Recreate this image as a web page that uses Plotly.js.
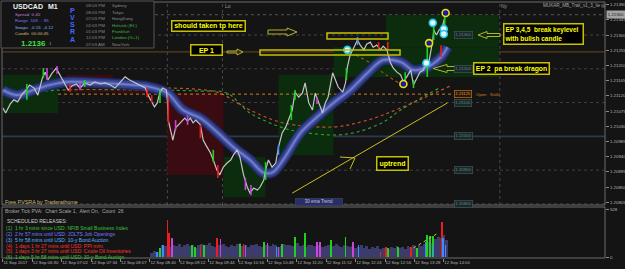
<!DOCTYPE html>
<html><head><meta charset="utf-8">
<script src="https://cdn.plot.ly/plotly-3.0.1.min.js"></script>
<style>html,body{margin:0;padding:0;background:#141414;}#chart{width:625px;height:269px;}</style>
</head><body><div id="chart"></div>
<script>
// ---------------- DATA ----------------
const priceTime = [0,3,8,12,16,21,25,29,34,38,43,46,49,53,58,62,
67,71,75,80,84,89,95,100,106,111,117,122,128,133,138,144,149,155,158,161,165,168,171,174,178,
179,180,183,185,188,191,193,196,198,201,204,207,210,215,218,221,226,229,233,236,240,244,248,251,255,258,262,266,269,273,277,280,284,286,289,293,297,300,304,308,311,315,318,322,326,329,333,337,340,344,348,351,354,359,362,365,370,373,375,378,382,386,389,393,396,400,403,407,411,414,418,422,425,429,433,436,439,444,447,450,454,458,460,463,468,469,472,475,478,482];
const priceClose = [1.21084,1.21069,1.21096,1.21108,1.21102,1.21125,1.21137,1.21152,1.21143,1.21122,1.21173,1.21190,1.21167,1.21185,1.21202,1.21182,
1.21161,1.21137,1.21149,1.21155,1.21143,1.21158,1.21152,1.21161,1.21155,1.21158,1.21152,1.21143,1.21161,1.21176,1.21167,1.21158,1.21152,1.21143,1.21122,1.21108,1.21087,1.21099,1.21131,1.21143,1.21137,
1.21108,1.21048,1.21013,1.20989,1.21025,1.21034,1.21040,1.21048,1.21054,1.21045,1.21054,1.21040,1.21048,1.21034,1.20989,1.20974,1.20951,1.20930,1.20900,1.20886,1.20909,1.20921,1.20930,1.20945,1.20960,1.20939,1.20886,1.20850,1.20832,1.20847,1.20841,1.20850,1.20871,1.20900,1.20930,1.20909,1.20921,1.20968,1.21010,1.21028,1.21048,1.21078,1.21131,1.21116,1.21128,1.21158,1.21099,1.21078,1.21128,1.21099,1.21069,1.21099,1.21116,1.21188,1.21167,1.21146,1.21131,1.21158,1.21205,1.21241,1.21262,1.21285,1.21270,1.21256,1.21273,1.21279,1.21264,1.21270,1.21256,1.21267,1.21256,1.21217,1.21202,1.21190,1.21182,1.21161,1.21173,1.21196,1.21152,1.21167,1.21190,1.21196,1.21220,1.21208,1.21285,1.21315,1.21300,1.21315,1.21321,1.21362];

const dragonTime  = [0,15,33,51,70,106,142,160,179,196,215,233,251,269,284,294,305,324,342,360,378,397,414,433,447,462,477,484];
const dragonPrice = [1.21137,1.21122,1.21137,1.21152,1.21161,1.21158,1.21152,1.21146,1.21128,1.21078,1.21054,1.21013,1.20968,1.20930,1.20892,1.20894,1.20930,1.21010,1.21057,1.21099,1.21137,1.21188,1.21226,1.21220,1.21196,1.21205,1.21235,1.21264];

const maGreenTime  = [0,62,160,215,244,269,305,324,360,386,414,433,477];
const maGreenPrice = [1.21122,1.21137,1.21137,1.21134,1.21128,1.21069,1.21025,1.21013,1.21004,1.21013,1.21042,1.21078,1.21146];
const maRedTime  = [160,233,255,269,305,360,397,433,487];
const maRedPrice = [1.21143,1.21131,1.21099,1.21078,1.21040,1.21028,1.21048,1.21084,1.21149];
const maUpperTime  = [384,400,417,433];
const maUpperPrice = [1.21241,1.21217,1.21182,1.21155];

const dailyOpen = 1.21125, openFrom = 60, openTo = 490;
const keyLevel = 1.21250, bidPrice = 1.21360;

const candleTime = [26,44,48,59,73,84,89,157,162,171,180,188,201,215,229,234,264,270,286,300,314,318,342,374,386,409,419,438,447,462,477,469,481];
const candleHigh = [1.21155,1.21202,1.21202,1.21208,1.21155,1.21161,1.21167,1.21143,1.21122,1.21137,1.21116,1.21048,1.21063,1.21034,1.20960,1.20915,1.20877,1.20856,1.20924,1.20974,1.21093,1.21137,1.21116,1.21202,1.21294,1.21279,1.21279,1.21190,1.21167,1.21285,1.21270,1.21330,1.21359];
const candleLow  = [1.21108,1.21173,1.21167,1.21185,1.21131,1.21137,1.21146,1.21116,1.21099,1.21099,1.21040,1.21019,1.21034,1.20995,1.20924,1.20877,1.20841,1.20826,1.20871,1.20945,1.21048,1.21108,1.21096,1.21167,1.21270,1.21256,1.21256,1.21155,1.21143,1.21176,1.21235,1.21285,1.21315];
const candleType = ['bullClimax','bullClimax','bearRising','bearRising','bearClimax','bearRising','bullClimax','bearClimax','bearClimax','bullClimax','bearClimax','bearRising','bearRising','bearClimax','bullClimax','bearClimax','bearRising','bearRising','bullClimax','bullRising','bullClimax','bullClimax','bearRising','bullClimax','bullRising','bearClimax','bearClimax','bullClimax','bullClimax','bullClimax','bearClimax','bullClimax','bullClimax'];

const signalTime  = [482,464,436,468,480,480,461,375];
const signalPrice = [1.21365,1.21276,1.21155,1.21336,1.21318,1.21303,1.21217,1.21256];
const signalType  = ['entry','entry','entry','alert','alert','alert','alert','alert'];

const trendTime = [315,484], trendPrice = [1.20832,1.21099];

const boxStart = [0,68,120,179,240,300,360,417];
const boxEnd   = [60,120,179,240,286,360,540,540];
const boxHigh  = [1.21182,1.21182,1.21146,1.21128,1.20939,1.21182,1.21264,1.21359];
const boxLow   = [1.21069,1.21131,1.21128,1.20886,1.20820,1.20945,1.21176,1.21264];
const boxKind  = ['up','down','down','down','up','up','up','up'];

const levelPrices = [1.21400,1.21300,1.21200,1.21100,1.21000,1.20900,1.20800];
const sessionLines = [179,239,541];

const volStart = 162, volStep = 3;
const volValues = [45,70,60,95,140,120,150,110,135,125,
145,115,130,150,120,140,100,130,145,120,
135,155,125,110,140,130,150,120,115,140,
125,145,160,120,130,110,140,135,150,125,
115,140,130,120,145,135,110,125,150,140,
130,120,145,155,125,135,110,140,130,120,
145,135,115,125,140,130,120,150,125,110,
135,120,110,125,100,115,130,105,120,95,
110,100,120,90,105,115,95,110,100,125,
105,115,95,120,110,130,100,140,125,150,
165,180,160,200,230,210,250,190];
const spikeTime = [168,171,174,179,181,184,206,209,215,219,233,237,258,262,264,284,288,298,300,304,318,329,342,345,357,373,381,387,411,417,419,430,444,451,460,462,465,468,469,478,479,482];
const spikeVol  = [57,102,135,415,269,213,135,113,135,135,213,202,146,146,135,169,158,113,113,146,225,269,169,169,191,225,169,135,57,113,102,113,113,102,169,247,236,236,135,392,213,135];
const spikeType = ['bullRising','bullClimax','bullRising','bearClimax','bearClimax','bearRising','bullClimax','bullClimax','bearClimax','bullClimax','bearClimax','bearRising','bullClimax','bearClimax','bearRising','bullClimax','bearRising','bullRising','bearRising','bullClimax','bullClimax','bullClimax','bearRising','bearRising','bullClimax','bullClimax','bearRising','bullRising','bearClimax','bearClimax','bullClimax','bullClimax','bearClimax','bullClimax','bullRising','bullClimax','bullClimax','bullClimax','bullRising','bearClimax','bullRising','bullRising'];
const lowerTrendTime = [447,472], lowerTrendVol = [102,258];

const timeTickIdx  = [0,32,64,96,128,160,192,224,256,288,320,352,384,416,448,480];
const timeTickText = ['11 Sep 2017','12 Sep 06:30','12 Sep 07:02','12 Sep 07:34','12 Sep 08:07','12 Sep 08:40','12 Sep 09:12','12 Sep 09:44','12 Sep 10:16','12 Sep 10:48','12 Sep 11:20','12 Sep 11:52','12 Sep 12:24','12 Sep 12:56','12 Sep 13:28','12 Sep 14:00'];
const priceTicks = [1.21390,1.21345,1.21300,1.21255,1.21210,1.21165,1.21120,1.21075,1.21030,1.20985,1.20940,1.20895,1.20850,1.20805];

const sessionTimes = ['09:03 PM','08:03 PM','07:03 PM','02:03 PM','01:03 PM','12:03 PM','07:03 AM'];
const sessionCities = ['Sydney','Tokyo','HongKong','Helsinki (EL)','Frankfurt','London (G+1)','NewYork'];
const sessionOpen = [false,false,false,true,true,true,false];
const releases = ['(1)  1 hr 3 mins since USD: NFIB Small Business Index',
 '(2)  2 hr 57 mins until USD: JOLTS Job Openings',
 '(3)  5 hr 58 mins until USD: 10-y Bond Auction',
 '(4)  1 days 1 hr 27 mins until USD: PPI m/m',
 '(5)  1 days 3 hr 27 mins until USD: Crude Oil Inventories',
 '(6)  1 days 5 hr 58 mins until USD: 30-y Bond Auction'];
const releaseKind = ['past','usd','usd2','high','high','past'];

// ---------------- STYLE / BUILD ----------------
const C = {bullClimax:'#22d022', bearClimax:'#ee1c1c', bullRising:'#3a8cff', bearRising:'#cc44dd'};
const L=2,R=605,TOP=2,BOT=258;
const xp=x=>(x-L)/(R-L), yp=y=>(BOT-y)/(BOT-TOP);
const FONT='Liberation Sans, Arial, sans-serif';
const traces=[];

traces.push({x:maGreenTime,y:maGreenPrice,mode:'lines',line:{color:'#2aa02a',width:1.2,dash:'dot',shape:'spline'},xaxis:'x',yaxis:'y'});
traces.push({x:maRedTime,y:maRedPrice,mode:'lines',line:{color:'#c8502a',width:1.2,dash:'dot',shape:'spline'},xaxis:'x',yaxis:'y'});
traces.push({x:maUpperTime,y:maUpperPrice,mode:'lines',line:{color:'#b84a2a',width:1.1,dash:'dot',shape:'spline'},xaxis:'x',yaxis:'y'});
traces.push({x:[openFrom,openTo],y:[dailyOpen,dailyOpen],mode:'lines',line:{color:'#d08020',width:1,dash:'dot'},xaxis:'x',yaxis:'y'});
[[10.5,'#222b66'],[7.5,'#34418c'],[4,'#4d5aaa'],[1.6,'#7480c8']].forEach(([w,c])=>{
  traces.push({x:dragonTime,y:dragonPrice,mode:'lines',line:{color:c,width:w,shape:'spline',smoothing:1},xaxis:'x',yaxis:'y'});
});
traces.push({x:priceTime,y:priceClose,mode:'lines',line:{color:'#c4c4c4',width:1.2},xaxis:'x',yaxis:'y'});
Object.keys(C).forEach(k=>{
  const xs=[],ys=[];
  candleTime.forEach((t,i)=>{ if(candleType[i]===k){ xs.push(t,t,null); ys.push(candleLow[i],candleHigh[i],null);} });
  traces.push({x:xs,y:ys,mode:'lines',line:{color:C[k],width:1.6},xaxis:'x',yaxis:'y'});
});
traces.push({x:trendTime,y:trendPrice,mode:'lines',line:{color:'#c8c020',width:1},xaxis:'x',yaxis:'y'});
const sIdxE=signalType.map((s,i)=>s==='entry'?i:-1).filter(i=>i>=0);
const sIdxA=signalType.map((s,i)=>s==='alert'?i:-1).filter(i=>i>=0);
traces.push({x:sIdxA.map(i=>signalTime[i]),y:sIdxA.map(i=>signalPrice[i]),mode:'markers',marker:{size:7,color:'#e6f6ff',line:{color:'#22c4e8',width:1.6}},xaxis:'x',yaxis:'y'});
traces.push({x:sIdxE.map(i=>signalTime[i]),y:sIdxE.map(i=>signalPrice[i]),mode:'markers',marker:{size:7,color:'#1a1aa8',line:{color:'#f0e000',width:1.6}},xaxis:'x',yaxis:'y'});
traces.push({type:'bar',x:volValues.map((v,i)=>volStart+i*volStep),y:volValues,width:volStep,marker:{color:'#3c3c6c',line:{width:0}},xaxis:'x',yaxis:'y2'});
traces.push({type:'bar',x:spikeTime,y:spikeVol,width:1.7,marker:{color:spikeType.map(k=>C[k]),line:{width:0}},xaxis:'x',yaxis:'y2'});
traces.push({x:lowerTrendTime,y:lowerTrendVol,mode:'lines',line:{color:'#c8c020',width:1,dash:'dot'},xaxis:'x',yaxis:'y2'});

const shapes=[];
boxStart.forEach((s,i)=>shapes.push({type:'rect',xref:'x',yref:'y',x0:s,x1:boxEnd[i],y0:boxLow[i],y1:boxHigh[i],fillcolor:boxKind[i]==='up'?'#0c2c0e':'#3a0c12',line:{width:0},layer:'below'}));
levelPrices.forEach(p=>{
  if(p===1.21000) shapes.push({type:'line',xref:'paper',yref:'y',x0:0,x1:1,y0:p,y1:p,line:{color:'#2c3a4c',width:1.6},layer:'below'});
  else shapes.push({type:'line',xref:'paper',yref:'y',x0:0,x1:1,y0:p,y1:p,line:{color:'#424242',width:1,dash:'dot'},layer:'below'});
});
shapes.push({type:'line',xref:'paper',yref:'y',x0:0,x1:1,y0:keyLevel,y1:keyLevel,line:{color:'#6e4820',width:1},layer:'below'});
shapes.push({type:'line',xref:'paper',yref:'y',x0:xp(155),x1:1,y0:bidPrice,y1:bidPrice,line:{color:'#555',width:1,dash:'dot'},layer:'below'});
sessionLines.forEach(t=>shapes.push({type:'line',xref:'x',yref:'paper',x0:t,x1:t,y0:yp(205),y1:1,line:{color:'#4a4a4a',width:1,dash:'dot'},layer:'below'}));
shapes.push({type:'rect',xref:'paper',yref:'paper',x0:0,x1:1,y0:yp(205),y1:1,line:{color:'#6a6a6a',width:1},layer:'above'});
shapes.push({type:'rect',xref:'paper',yref:'paper',x0:0,x1:1,y0:0,y1:yp(207),line:{color:'#6a6a6a',width:1},layer:'above'});
shapes.push({type:'rect',xref:'paper',yref:'paper',x0:xp(1),x1:xp(154),y0:yp(48),y1:yp(1),fillcolor:'#141414',line:{color:'#555',width:1},layer:'above'});
function poly(pts){return 'M'+pts.map(p=>xp(p[0]).toFixed(5)+','+yp(p[1]).toFixed(5)).join(' L')+' Z';}
const arrowLine={color:'#b8b030',width:1};
[[[268,30],[287,30],[287,28],[297,32],[287,36],[287,34],[268,34]],
 [[227,51],[237,51],[237,49],[243,52],[237,55],[237,53],[227,53]],
 [[500,33.5],[487,33.5],[487,31.5],[478,35],[487,38.5],[487,36.5],[500,36.5]],
 [[472,66.5],[447,66.5],[447,64.5],[433,68.5],[447,72.5],[447,70.5],[472,70.5]]
].forEach(p=>shapes.push({type:'path',xref:'paper',yref:'paper',path:poly(p),line:arrowLine,fillcolor:'rgba(0,0,0,0)',layer:'above'}));
[[327,33,388,39],[260,50,400,55]].forEach(r=>shapes.push({type:'rect',xref:'paper',yref:'paper',x0:xp(r[0]),x1:xp(r[2]),y0:yp(r[3]),y1:yp(r[1]),line:{color:'#c8c000',width:1.5},layer:'above'}));
[[340,157,355,158],[350,169,355,158]].forEach(l=>shapes.push({type:'line',xref:'paper',yref:'paper',x0:xp(l[0]),y0:yp(l[1]),x1:xp(l[2]),y1:yp(l[3]),line:{color:'#c8c020',width:1},layer:'above'}));

const ann=[];
function T(text,x,y,size,color,opt){ann.push(Object.assign({xref:'paper',yref:'paper',x:xp(x),y:yp(y),text:text,showarrow:false,xanchor:'left',yanchor:'middle',font:{size:size,color:color,family:FONT}},opt||{}));}
function Box(text,x0,y0,x1,y1,opt){
  const o=Object.assign({bw:1.5,size:7,color:'#ffff00',border:'#c8c000',bg:'#000000',align:'center'},opt||{});
  ann.push({xref:'paper',yref:'paper',x:xp((x0+x1)/2),y:yp((y0+y1)/2),xanchor:'center',yanchor:'middle',text:text,showarrow:false,
    width:x1-x0-2*o.bw,height:y1-y0-2*o.bw,borderpad:0,borderwidth:o.bw,bordercolor:o.border,bgcolor:o.bg,align:o.align,
    font:{size:o.size,color:o.color,family:FONT}});
}
Box('<b>should taken tp here</b>',171,20,246,32);
Box('<b>EP 1</b>',190,44,223,56);
Box('<b>EP 3,4,5  break keylevel<br>with bulish candle</b>',503,23,584,45,{align:'left',size:6.5});
Box('<b>EP 2  pa break dragon</b>',473,62,550,75,{size:6.8});
Box('<b>uptrend</b>',376,156,409,171);
Box('30 ema Trend',295,198,343,205.5,{bw:0.6,size:4.5,color:'#c0c4e8',border:'#3c4276',bg:'#2a2f62'});

T('<b>USDCAD</b>',11,6.5,7,'#f0f0f0');
T('<b>M1</b>',46,6.5,7,'#f0f0f0');
T('Spread  0.40',13,14.5,4.4,'#c080d0');
T('Range  109 ... 95',13,20.8,4.4,'#7b7bff');
T('Swaps  -0.15  -4.12',13,27,4.4,'#80b0ff');
T('Candle  00:00:45',13,33.2,4.4,'#d8b878');
T('<b>1.2136</b>',19,43,8,'#40e040');
T('1',47,43.5,4.4,'#a0a0a0');
['P','V','S','R','A'].forEach((c,i)=>T('<b>'+c+'</b>',72,[10,17.3,24.6,31.8,39][i],7,'#4a66ff',{xanchor:'center'}));
const rowY=[5.7,12,18.3,25,31.5,37.8,44.2];
sessionTimes.forEach((t,i)=>{T(t,84,rowY[i],4.4,'#8a8a8a');T(sessionCities[i],110,rowY[i],4.4,sessionOpen[i]?'#3cb43c':'#8a8a8a');});

T('Lo',223,6,5,'#9a9a9a');
T('Ny',499,6,5,'#9a9a9a');
T('MUKAR_MB_Trail_v1_3_lie ◎',541,5,4.6,'#a8a8a8');
T('Free PVSRA by Traderathome',3,201.5,5.4,'#c8b878');
levelPrices.forEach(p=>ann.push({xref:'x',yref:'y',x:501,y:p,text:p.toFixed(5),showarrow:false,xanchor:'center',yanchor:'middle',
  font:{size:4.3,color:'#6a8484',family:FONT},bgcolor:'#1a2828',bordercolor:'#3c5656',borderwidth:0.7,borderpad:0.6}));
ann.push({xref:'x',yref:'y',x:501,y:dailyOpen,text:dailyOpen.toFixed(5),showarrow:false,xanchor:'center',yanchor:'middle',
  font:{size:4.3,color:'#e09040',family:FONT},bgcolor:'#2a1a0a',bordercolor:'#c07020',borderwidth:0.7,borderpad:0.6});
ann.push({xref:'x',yref:'y',x:513,y:dailyOpen,text:'Open   9x00',showarrow:false,xanchor:'left',yanchor:'middle',font:{size:4.3,color:'#d08030',family:FONT}});
ann.push({xref:'paper',yref:'y',x:xp(605.5),y:bidPrice,text:bidPrice.toFixed(5),showarrow:false,xanchor:'left',yanchor:'middle',
  font:{size:4.3,color:'#202020',family:FONT},bgcolor:'#a4a4a4',borderpad:0.8});

T('Broker Tick PVA:  Chart Scale 1,  Alert On,  Count  26',3,210.5,5,'#a8a8a8');
T('SCHEDULED RELEASES:',5,220.5,5,'#d0d0d0');
const relColor={past:'#3cc03c',usd:'#7a7aff',usd2:'#5ab0ff',high:'#ff3030'};
releases.forEach((r,i)=>T(r,4,[228.3,234.2,240,245.8,251.4,257][i],5,relColor[releaseKind[i]]));

const layout={
  width:625,height:269,margin:{l:L,r:625-R,t:TOP,b:269-BOT,pad:0},
  paper_bgcolor:'#141414',plot_bgcolor:'#141414',showlegend:false,hovermode:false,
  font:{family:FONT,color:'#b0b0b0'},barmode:'overlay',bargap:0,
  xaxis:{domain:[0,1],range:[-1,655.5],anchor:'y2',tickmode:'array',tickvals:timeTickIdx,ticktext:timeTickText,tickangle:0,
    ticks:'outside',ticklen:3,tickcolor:'#8a8a8a',tickfont:{size:4.3,color:'#b4b4b4'},ticklabelposition:'outside right',
    showgrid:false,zeroline:false,showline:false,automargin:false},
  yaxis:{domain:[yp(205),1],range:[1.207968,1.213977],side:'right',anchor:'x',tickmode:'array',tickvals:priceTicks,
    ticktext:priceTicks.map(v=>v.toFixed(5)),ticks:'outside',ticklen:3,tickcolor:'#8a8a8a',tickfont:{size:4.4,color:'#b4b4b4'},
    showgrid:false,zeroline:false,showline:false,automargin:false},
  yaxis2:{domain:[0,yp(207)],range:[-10,560],side:'right',anchor:'x',tickmode:'array',tickvals:[0,528],ticktext:['0','528'],
    ticks:'outside',ticklen:3,tickcolor:'#8a8a8a',tickfont:{size:4.4,color:'#b4b4b4'},showgrid:false,zeroline:false,showline:false,automargin:false},
  shapes:shapes,annotations:ann
};
Plotly.newPlot('chart',traces,layout,{staticPlot:true,displayModeBar:false});
</script></body></html>
